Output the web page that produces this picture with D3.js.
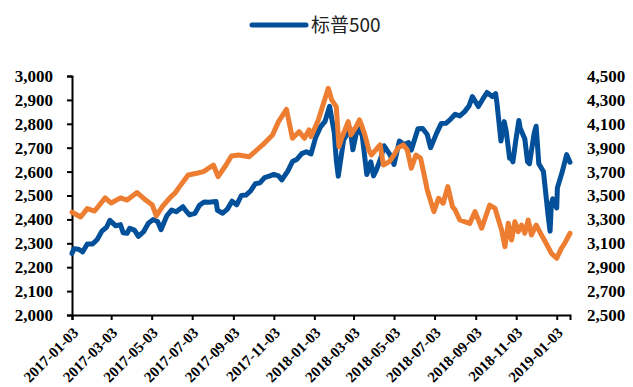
<!DOCTYPE html>
<html>
<head>
<meta charset="utf-8">
<script src="https://cdn.jsdelivr.net/npm/d3@7"></script>
<style>
  body { margin: 0; background: #fff; }
  svg { display: block; }
  .axis text { font-family: "Times New Roman", "Liberation Serif", serif; font-weight: bold; fill: #000; }
</style>
</head>
<body>
<svg id="chart" width="633" height="387"></svg>
<script>
// S&P 500 (left axis)
const spxDates = ["2017-01-03","2017-01-06","2017-01-13","2017-01-19","2017-01-26","2017-02-03","2017-02-10","2017-02-17","2017-02-24","2017-03-01","2017-03-10","2017-03-17","2017-03-21","2017-03-27","2017-03-31","2017-04-07","2017-04-13","2017-04-21","2017-04-28","2017-05-05","2017-05-12","2017-05-17","2017-05-26","2017-06-02","2017-06-09","2017-06-19","2017-06-23","2017-06-29","2017-07-07","2017-07-14","2017-07-21","2017-07-28","2017-08-08","2017-08-10","2017-08-18","2017-08-25","2017-09-01","2017-09-08","2017-09-15","2017-09-22","2017-09-29","2017-10-06","2017-10-13","2017-10-20","2017-10-27","2017-11-03","2017-11-10","2017-11-15","2017-11-24","2017-12-01","2017-12-08","2017-12-15","2017-12-22","2017-12-29","2018-01-05","2018-01-12","2018-01-19","2018-01-26","2018-02-02","2018-02-05","2018-02-08","2018-02-16","2018-02-26","2018-03-02","2018-03-09","2018-03-16","2018-03-23","2018-03-29","2018-04-02","2018-04-06","2018-04-13","2018-04-18","2018-04-27","2018-05-03","2018-05-11","2018-05-18","2018-05-25","2018-05-29","2018-06-08","2018-06-15","2018-06-22","2018-06-27","2018-07-06","2018-07-13","2018-07-20","2018-07-27","2018-08-03","2018-08-10","2018-08-17","2018-08-24","2018-08-29","2018-09-07","2018-09-14","2018-09-20","2018-09-28","2018-10-03","2018-10-05","2018-10-11","2018-10-16","2018-10-19","2018-10-24","2018-10-26","2018-10-29","2018-11-02","2018-11-07","2018-11-09","2018-11-16","2018-11-20","2018-11-23","2018-11-30","2018-12-03","2018-12-07","2018-12-14","2018-12-21","2018-12-24","2018-12-26","2018-12-28","2019-01-03","2019-01-04","2019-01-11","2019-01-18","2019-01-23"];
const spxValues = [2258,2277,2275,2264,2297,2297,2316,2351,2367,2396,2373,2378,2344,2342,2363,2355,2329,2349,2384,2399,2391,2357,2416,2439,2432,2453,2438,2419,2425,2459,2473,2472,2475,2438,2426,2443,2476,2461,2500,2502,2519,2549,2553,2575,2581,2588,2582,2565,2602,2642,2652,2675,2683,2674,2743,2786,2810,2873,2762,2649,2581,2732,2780,2691,2786,2752,2588,2641,2582,2604,2656,2708,2670,2630,2728,2713,2721,2690,2779,2780,2755,2700,2760,2801,2802,2819,2840,2833,2850,2875,2914,2872,2905,2931,2914,2926,2886,2728,2809,2768,2656,2659,2641,2723,2814,2781,2736,2641,2633,2760,2790,2633,2600,2417,2351,2468,2486,2448,2532,2596,2671,2639];

// second index (right axis)
const otherDates = ["2017-01-03","2017-01-16","2017-01-26","2017-02-06","2017-02-22","2017-03-03","2017-03-17","2017-03-27","2017-04-11","2017-04-24","2017-05-04","2017-05-10","2017-05-19","2017-05-31","2017-06-07","2017-06-14","2017-06-27","2017-07-10","2017-07-20","2017-08-04","2017-08-11","2017-08-23","2017-08-31","2017-09-11","2017-09-27","2017-10-17","2017-11-01","2017-11-10","2017-11-22","2017-12-01","2017-12-11","2017-12-19","2017-12-26","2017-12-29","2018-01-09","2018-01-16","2018-01-24","2018-01-29","2018-02-05","2018-02-09","2018-02-13","2018-02-23","2018-02-27","2018-03-07","2018-03-12","2018-03-15","2018-03-20","2018-03-26","2018-03-30","2018-04-12","2018-04-17","2018-04-26","2018-05-03","2018-05-09","2018-05-17","2018-05-23","2018-05-29","2018-06-05","2018-06-12","2018-06-19","2018-06-22","2018-07-02","2018-07-09","2018-07-16","2018-07-23","2018-07-30","2018-08-03","2018-08-10","2018-08-25","2018-09-02","2018-09-12","2018-09-24","2018-10-02","2018-10-12","2018-10-17","2018-10-22","2018-10-27","2018-11-01","2018-11-06","2018-11-11","2018-11-16","2018-11-21","2018-11-26","2018-12-03","2018-12-11","2018-12-18","2018-12-26","2019-01-03","2019-01-10","2019-01-15","2019-01-23"];
const otherValues = [3360,3320,3390,3370,3480,3437,3480,3462,3525,3462,3420,3330,3406,3485,3519,3574,3672,3686,3700,3755,3658,3755,3830,3839,3825,3923,4007,4118,4220,3979,4034,3979,4049,3993,4132,4258,4397,4300,4243,3909,3979,4118,4007,4076,4132,4090,4007,3881,3839,3923,3755,3783,3839,3898,3923,3881,3728,3839,3811,3630,3546,3365,3477,3435,3574,3406,3379,3295,3267,3365,3226,3420,3393,3211,3072,3267,3128,3281,3197,3253,3184,3295,3170,3253,3170,3100,3016,2975,3058,3100,3184];

const leftTicks = [2000,2100,2200,2300,2400,2500,2600,2700,2800,2900,3000];
const rightTicks = [2500,2700,2900,3100,3300,3500,3700,3900,4100,4300,4500];
const xTickLabels = ["2017-01-03","2017-03-03","2017-05-03","2017-07-03","2017-09-03","2017-11-03","2018-01-03","2018-03-03","2018-05-03","2018-07-03","2018-09-03","2018-11-03","2019-01-03"];
const legendLabel = "标普500";

const parse = d3.timeParse("%Y-%m-%d");
const spx = spxDates.map((d, i) => ({date: parse(d), value: spxValues[i]}));
const other = otherDates.map((d, i) => ({date: parse(d), value: otherValues[i]}));

const svg = d3.select("#chart");
const plot = {left: 72, right: 570, top: 76, bottom: 315};

const x = d3.scaleTime()
  .domain([parse("2017-01-03"), parse("2019-01-23")])
  .range([plot.left, plot.right]);
const yL = d3.scaleLinear().domain([2000, 3000]).range([plot.bottom, plot.top]);
const yR = d3.scaleLinear().domain([2500, 4500]).range([plot.bottom, plot.top]);

// Left axis
const gL = svg.append("g")
  .attr("class", "axis")
  .attr("transform", `translate(${plot.left},0)`)
  .call(d3.axisLeft(yL).tickValues(leftTicks).tickFormat(d3.format(",")).tickSizeOuter(0).tickSize(5).tickPadding(14));
gL.selectAll("text").style("font-size", "17px");
gL.selectAll("line, path").attr("stroke", "#000").attr("stroke-width", 2);

// Right axis (labels only)
const gR = svg.append("g")
  .attr("class", "axis")
  .attr("transform", `translate(${plot.right},0)`)
  .call(d3.axisRight(yR).tickValues(rightTicks).tickFormat(d3.format(",")).tickSize(0).tickPadding(17));
gR.select(".domain").remove();
gR.selectAll("text").style("font-size", "17px");

// Bottom axis
const gX = svg.append("g")
  .attr("class", "axis")
  .attr("transform", `translate(0,${plot.bottom})`)
  .call(d3.axisBottom(x).tickValues(xTickLabels.map(parse)).tickFormat(d3.timeFormat("%Y-%m-%d")).tickSizeOuter(0).tickSize(5));
gX.selectAll("line, path").attr("stroke", "#000").attr("stroke-width", 2);
gX.selectAll("text")
  .style("font-size", "15px")
  .attr("text-anchor", "end")
  .attr("dy", "0.35em")
  .attr("y", 0)
  .attr("transform", "translate(3,15) rotate(-45)");

// Lines
const lineL = d3.line().x(d => x(d.date)).y(d => yL(d.value));
const lineR = d3.line().x(d => x(d.date)).y(d => yR(d.value));

svg.append("path")
  .datum(spx)
  .attr("d", lineL)
  .attr("fill", "none")
  .attr("stroke", "#03509a")
  .attr("stroke-width", 5)
  .attr("stroke-linejoin", "round")
  .attr("stroke-linecap", "round");

svg.append("path")
  .datum(other)
  .attr("d", lineR)
  .attr("fill", "none")
  .attr("stroke", "#ed7d31")
  .attr("stroke-width", 5)
  .attr("stroke-linejoin", "round")
  .attr("stroke-linecap", "round");

// Legend
const legend = svg.append("g").attr("transform", "translate(252,25)");
legend.append("line")
  .attr("x1", 0).attr("x2", 54)
  .attr("stroke", "#03509a").attr("stroke-width", 5).attr("stroke-linecap", "round");
legend.append("text")
  .attr("x", 59).attr("y", 0).attr("dy", "0.36em")
  .style("font-family", "'Noto Sans CJK SC', sans-serif")
  .style("font-size", "19px")
  .attr("fill", "#222")
  .text(legendLabel);
</script>
</body>
</html>
